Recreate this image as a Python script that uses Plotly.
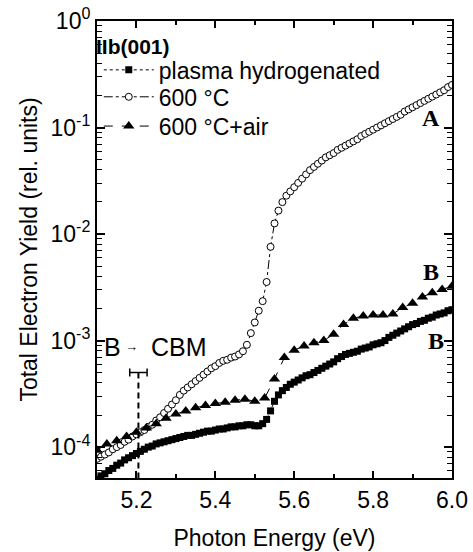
import numpy as np
import plotly.graph_objects as go

# ---- data ----
energy_fine = [round(5.10 + 0.01 * i, 2) for i in range(91)]  # photon energy grid, eV

# plasma hydrogenated (filled squares), log10 of yield
log_plasma = [
    -4.30, -4.27, -4.25, -4.22, -4.20, -4.17, -4.15, -4.12, -4.10, -4.08,
    -4.06, -4.04, -4.02, -4.00, -3.99, -3.97, -3.96, -3.95, -3.94, -3.93,
    -3.92, -3.91, -3.90, -3.89, -3.89, -3.88, -3.87, -3.86, -3.85, -3.85,
    -3.84, -3.83, -3.83, -3.82, -3.81, -3.81, -3.80, -3.80, -3.79, -3.79,
    -3.80, -3.80, -3.78, -3.74, -3.66, -3.57, -3.51, -3.47, -3.44, -3.41,
    -3.39, -3.37, -3.35, -3.33, -3.32, -3.30, -3.28, -3.26, -3.24, -3.22,
    -3.20, -3.17, -3.15, -3.13, -3.12, -3.11, -3.10, -3.08, -3.07, -3.06,
    -3.04, -3.03, -3.02, -3.00, -2.97, -2.95, -2.93, -2.91, -2.89, -2.87,
    -2.85, -2.84, -2.82, -2.81, -2.79, -2.78, -2.76, -2.75, -2.74, -2.72,
    -2.71,
]

# 600 °C (open circles), log10 of yield
log_600 = [
    -4.11, -4.09, -4.07, -4.05, -4.02, -4.00, -3.98, -3.95, -3.93, -3.90,
    -3.88, -3.86, -3.84, -3.81, -3.79, -3.75, -3.72, -3.68, -3.64, -3.60,
    -3.56, -3.51, -3.47, -3.44, -3.41, -3.38, -3.35, -3.32, -3.29, -3.26,
    -3.24, -3.21, -3.19, -3.18, -3.16, -3.15, -3.13, -3.10, -3.04, -2.93,
    -2.83, -2.72, -2.63, -2.45, -2.12, -1.90, -1.78, -1.70, -1.64, -1.60,
    -1.56, -1.52, -1.48, -1.44, -1.40, -1.37, -1.34, -1.31, -1.28, -1.26,
    -1.24, -1.21, -1.19, -1.17, -1.15, -1.13, -1.11, -1.08, -1.06, -1.04,
    -1.02, -1.00, -0.98, -0.96, -0.94, -0.92, -0.90, -0.88, -0.85, -0.83,
    -0.81, -0.79, -0.77, -0.75, -0.73, -0.71, -0.69, -0.67, -0.65, -0.62,
    -0.60,
]

energy_coarse = [round(5.10 + 0.025 * i, 3) for i in range(37)]
# 600 °C + air (filled triangles), log10 of yield
log_600_air = [
    -4.03, -3.97, -3.94, -3.90, -3.86, -3.82, -3.78, -3.73, -3.69, -3.66,
    -3.63, -3.61, -3.59, -3.58, -3.56, -3.55, -3.57, -3.54, -3.36, -3.16,
    -3.09, -3.05, -3.02, -3.00, -2.94, -2.85, -2.79, -2.77, -2.76, -2.76,
    -2.75, -2.69, -2.65, -2.59, -2.55, -2.52, -2.49,
]

# B -> CBM marker
cbm_energy = 5.205
cbm_err = 0.022
cbm_log_top = -3.30
y_log_range = [-4.29, 0.0]

x_tickvals = [5.2, 5.4, 5.6, 5.8, 6.0]
x_ticktext = ["5.2", "5.4", "5.6", "5.8", "6.0"]
x_minor = [5.1, 5.3, 5.5, 5.7, 5.9]
y_decades = [-4, -3, -2, -1, 0]

# ---- figure ----
FONT = "Liberation Sans, Arial, sans-serif"
SERIF = "Liberation Serif, Times New Roman, serif"
fig = go.Figure()

fig.add_trace(go.Scatter(
    x=energy_fine, y=[10 ** v for v in log_plasma], mode="lines+markers",
    name="plasma hydrogenated", legend="legend",
    line=dict(color="black", width=1, dash="dot"),
    marker=dict(symbol="square", size=7, color="black"),
))
fig.add_trace(go.Scatter(
    x=energy_fine, y=[10 ** v for v in log_600], mode="lines+markers",
    name="600 °C", legend="legend2",
    line=dict(color="black", width=1, dash="dashdot"),
    marker=dict(symbol="circle", size=7, color="white", line=dict(color="black", width=1)),
))
fig.add_trace(go.Scatter(
    x=energy_coarse, y=[10 ** v for v in log_600_air], mode="lines+markers",
    name="600 °C+air", legend="legend3",
    line=dict(color="black", width=1, dash="dash"),
    marker=dict(symbol="triangle-up", size=10, color="black"),
))

# CBM error bar and dashed drop line
fig.add_trace(go.Scatter(
    x=[cbm_energy, cbm_energy], y=[10 ** cbm_log_top, 10 ** y_log_range[0]],
    mode="lines", line=dict(color="black", width=2, dash="6px,4px"),
    showlegend=False, hoverinfo="skip",
))
fig.add_trace(go.Scatter(
    x=[cbm_energy], y=[10 ** cbm_log_top], mode="markers",
    marker=dict(size=1, color="black"),
    error_x=dict(type="constant", value=cbm_err, color="black", thickness=1.5, width=4),
    showlegend=False, hoverinfo="skip",
))

annos = [
    dict(x=5.947, y=-0.91, text="<b>A</b>", font=dict(family=SERIF, size=24)),
    dict(x=5.947, y=-2.36, text="<b>B</b>", font=dict(family=SERIF, size=24)),
    dict(x=5.96, y=-3.005, text="<b>B</b>", font=dict(family=SERIF, size=24)),
    dict(x=5.1405, y=-3.06, text="B", font=dict(family=FONT, size=25)),
    dict(x=5.187, y=-3.06, text="→", font=dict(family=FONT, size=13)),
    dict(x=5.309, y=-3.06, text="CBM", font=dict(family=FONT, size=25)),
]
for a in annos:
    fig.add_annotation(xref="x", yref="y", showarrow=False, **a)

fig.add_annotation(xref="paper", yref="paper", x=-0.008, y=0.945, xanchor="left", yanchor="middle",
                   showarrow=False, text="<b>IIb(001)</b>", font=dict(family=FONT, size=21))

legend_common = dict(
    xanchor="left", yanchor="middle", bgcolor="rgba(0,0,0,0)", borderwidth=0,
    font=dict(family=FONT, size=23), itemwidth=50,
)
fig.update_layout(
    width=473, height=552,
    margin=dict(l=97, r=21, t=21, b=74),
    paper_bgcolor="white", plot_bgcolor="white",
    font=dict(family=FONT, size=23, color="black"),
    showlegend=True,
    legend=dict(x=0.005, y=0.893, **legend_common),
    legend2=dict(x=0.005, y=0.834, **legend_common),
    legend3=dict(x=0.005, y=0.770, **legend_common),
)

fig.update_xaxes(
    range=[5.1, 6.0], showgrid=False, zeroline=False, automargin=False,
    showline=True, linecolor="black", linewidth=2, mirror="allticks",
    ticks="inside", ticklen=7, tickwidth=1.5, tickcolor="black",
    tickvals=x_tickvals, ticktext=x_ticktext,
    tickfont=dict(family=FONT, size=23),
    minor=dict(ticks="inside", ticklen=4, tickwidth=1.5, tickcolor="black", tickvals=x_minor, showgrid=False),
    title=dict(text="Photon Energy (eV)", font=dict(family=FONT, size=23), standoff=18),
)

y_minor = [m * 10 ** d for d in range(-5, 0) for m in range(2, 10)]
fig.update_yaxes(
    type="log", range=y_log_range, showgrid=False, zeroline=False, automargin=False,
    showline=True, linecolor="black", linewidth=2, mirror="allticks",
    ticks="inside", ticklen=8, tickwidth=1.5, tickcolor="black",
    tickvals=[10 ** d for d in y_decades],
    ticktext=["10<sup>%d</sup>" % d for d in y_decades],
    tickfont=dict(family=FONT, size=23),
    minor=dict(ticks="inside", ticklen=5, tickwidth=1, tickcolor="black", tickvals=y_minor, showgrid=False),
    title=dict(text="Total Electron Yield (rel. units)", font=dict(family=FONT, size=23), standoff=6),
)

fig.write_html("out.html", config={"displayModeBar": False},
               post_script="document.body.style.margin='0px';")
